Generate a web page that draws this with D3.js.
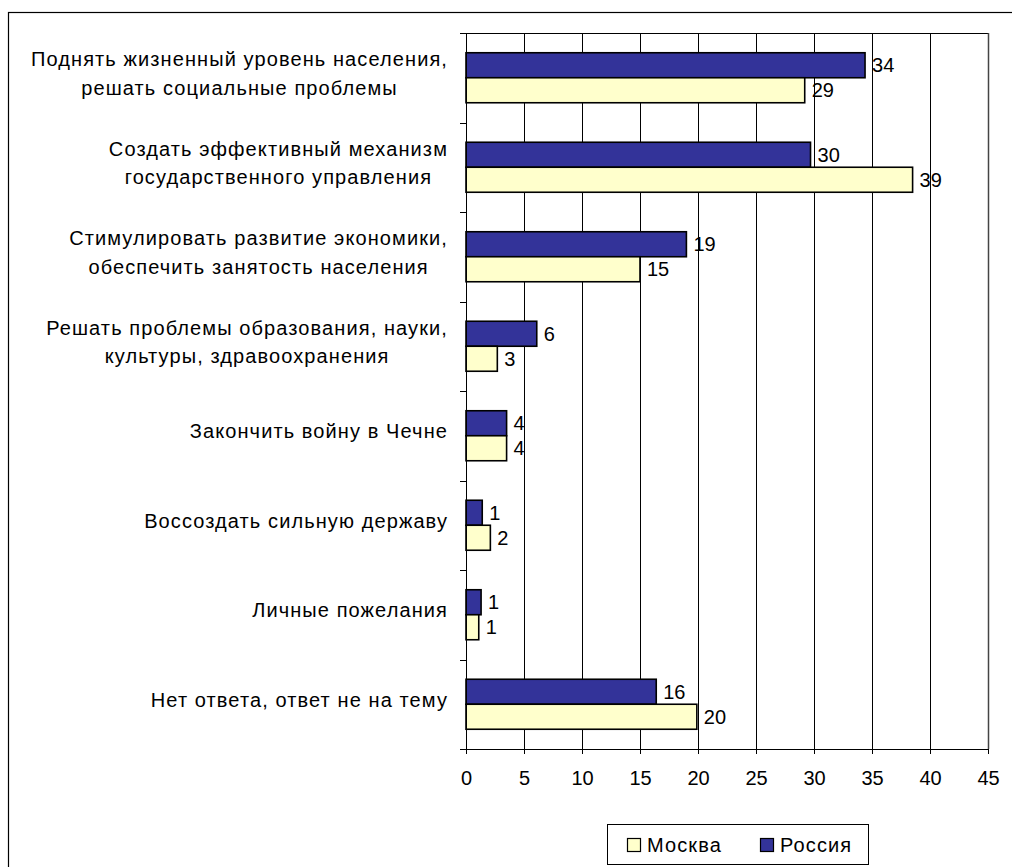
<!DOCTYPE html>
<html><head><meta charset="utf-8">
<script src="https://cdn.jsdelivr.net/npm/d3@7"></script>
<style>
html,body{margin:0;padding:0;background:#fff;}
svg{display:block;}
text{font-family:"Liberation Sans",Arial,sans-serif;fill:#000;}
</style></head>
<body>
<svg id="c" width="1012" height="867"></svg>
<script>
const categories = [
  "Поднять жизненный уровень населения,\nрешать социальные проблемы",
  "Создать эффективный механизм\nгосударственного управления",
  "Стимулировать развитие экономики,\nобеспечить занятость населения",
  "Решать проблемы образования, науки,\nкультуры, здравоохранения",
  "Закончить войну в Чечне",
  "Воссоздать сильную державу",
  "Личные пожелания",
  "Нет ответа, ответ не на тему"
];
const seriesNames = ["Россия", "Москва"];
const russia = [34.4, 29.7, 19.0, 6.1, 3.5, 1.4, 1.3, 16.4];
const moscow = [29.2, 38.5, 15.0, 2.7, 3.5, 2.1, 1.1, 19.9];
const russiaLabels = [34, 30, 19, 6, 4, 1, 1, 16];
const moscowLabels = [29, 39, 15, 3, 4, 2, 1, 20];
const xTicks = [0, 5, 10, 15, 20, 25, 30, 35, 40, 45];
const colors = {"Россия": "#333399", "Москва": "#FFFFCC"};

const svg = d3.select("#c");
const FS = 20;
const LS = 1.1;

// outer frame
svg.append("rect").attr("x", 8.5).attr("y", 12.5).attr("width", 1100).attr("height", 1000)
  .attr("fill", "none").attr("stroke", "#000").attr("stroke-width", 1.2);

const x = d3.scaleLinear().domain([0, 45]).range([466, 988]);
const y = d3.scaleBand().domain(d3.range(categories.length)).range([33, 749]).padding(0);
const sub = d3.scaleBand().domain(seriesNames).range([0, y.bandwidth()]).paddingInner(0).paddingOuter(0.79);

// gridlines
svg.append("g").selectAll("line").data(xTicks.filter(d => d > 0 && d < 45)).join("line")
  .attr("x1", d => Math.round(x(d)) + 0.5).attr("x2", d => Math.round(x(d)) + 0.5)
  .attr("y1", 33).attr("y2", 749).attr("stroke", "#000").attr("stroke-width", 1);

// plot border top & right
svg.append("line").attr("x1", 466).attr("x2", 988).attr("y1", 33.5).attr("y2", 33.5).attr("stroke", "#000");
svg.append("line").attr("x1", 988.5).attr("x2", 988.5).attr("y1", 33).attr("y2", 749).attr("stroke", "#444").attr("stroke-width", 1.5);

// bars
const rows = categories.map((c, i) => ({i, vals: [
  {s: "Россия", v: russia[i], l: russiaLabels[i]},
  {s: "Москва", v: moscow[i], l: moscowLabels[i]}
]}));
const g = svg.append("g").selectAll("g").data(rows).join("g")
  .attr("transform", d => `translate(0,${y(d.i)})`);
g.selectAll("rect").data(d => d.vals).join("rect")
  .attr("x", x(0)).attr("y", d => sub(d.s)).attr("width", d => x(d.v) - x(0)).attr("height", sub.bandwidth())
  .attr("fill", d => colors[d.s]).attr("stroke", "#000").attr("stroke-width", 1.6);
g.selectAll("text").data(d => d.vals).join("text")
  .attr("x", d => x(d.v) + 7).attr("y", d => sub(d.s) + sub.bandwidth() / 2)
  .attr("dy", "0.36em").attr("font-size", FS).text(d => d.l);

// x axis
const xAxis = d3.axisBottom(x).tickValues(xTicks).tickSize(5).tickPadding(17).tickFormat(d3.format("d"));
const xa = svg.append("g").attr("transform", "translate(0,749)").call(xAxis);
xa.select(".domain").attr("d", "M460,0.5H988");
xa.selectAll("line").attr("stroke", "#000");
xa.selectAll("text").attr("font-size", FS).attr("font-family", '"Liberation Sans",Arial,sans-serif');
xa.selectAll(".tick").attr("transform", d => `translate(${Math.round(x(d)) + 0.5},0)`);

// y axis line and ticks
const ya = svg.append("g");
ya.append("line").attr("x1", 466.5).attr("x2", 466.5).attr("y1", 33).attr("y2", 754).attr("stroke", "#000");
ya.selectAll(".yt").data(d3.range(categories.length + 1)).join("line").attr("class", "yt")
  .attr("x1", 460).attr("x2", 466).attr("y1", d => Math.round(33 + d * y.step()) + 0.5).attr("y2", d => Math.round(33 + d * y.step()) + 0.5)
  .attr("stroke", "#000");

// category labels: block right-aligned to 448, lines centred
const LH = 28.5;
categories.forEach((c, i) => {
  const lines = c.split("\n");
  const t = svg.append("text").attr("font-size", FS).attr("text-anchor", "middle").attr("letter-spacing", LS);
  const cy = y(i) + y.bandwidth() / 2 - 4.5;
  const spans = lines.map((ln, k) => t.append("tspan").text(ln)
    .attr("y", cy + (k - (lines.length - 1) / 2) * LH).attr("dy", "0.36em"));
  const maxW = d3.max(spans, s => s.node().getComputedTextLength());
  spans.forEach(s => s.attr("x", 448 - maxW / 2));
});

// legend
const lg = svg.append("g");
lg.append("rect").attr("x", 607.5).attr("y", 824.5).attr("width", 261).attr("height", 40)
  .attr("fill", "#fff").attr("stroke", "#000");
const legItems = [{s: "Москва", x: 627}, {s: "Россия", x: 760}];
legItems.forEach(it => {
  lg.append("rect").attr("x", it.x + 0.5).attr("y", 838.5).attr("width", 13).attr("height", 13)
    .attr("fill", colors[it.s]).attr("stroke", "#000").attr("stroke-width", 1.2);
  lg.append("text").attr("x", it.x + 20).attr("y", 845).attr("dy", "0.36em").attr("font-size", FS)
    .attr("letter-spacing", LS).text(it.s);
});
</script>
</body></html>
